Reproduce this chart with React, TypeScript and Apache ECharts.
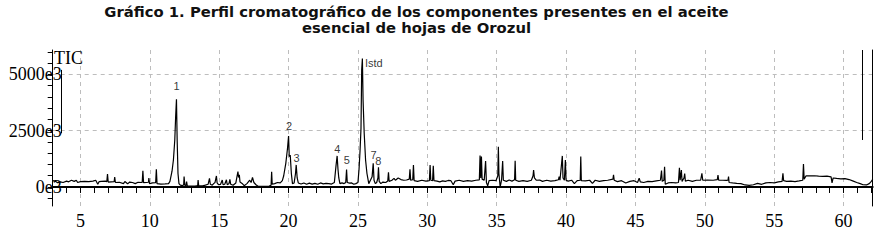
import React, { useEffect, useRef } from "react";
import * as echarts from "echarts";

// Chromatogram trace: [retention time (min), intensity (x1000 counts)]
const traceEarly: [number, number][] = [
  [3.0, 280], [3.2, 250], [3.35, 190], [3.55, 230], [3.75, 200], [4.0, 260], [4.15, 230], [4.35, 300],
  [4.55, 250], [4.7, 300], [4.8, 200], [5.0, 240], [5.3, 250], [5.6, 240], [5.9, 260], [6.1, 300],
  [6.25, 120], [6.35, 240], [6.5, 250], [6.8, 260], [6.9, 240], [6.95, 580], [7.0, 220], [7.2, 230],
  [7.43, 240], [7.47, 440], [7.52, 200], [7.8, 210], [8.1, 150], [8.2, 240], [8.4, 140], [8.55, 220],
  [8.75, 200], [8.95, 150], [9.15, 210], [9.45, 200], [9.5, 720], [9.55, 190], [9.75, 200], [9.9, 210],
  [9.93, 400], [9.98, 150], [10.2, 180], [10.42, 190], [10.47, 790], [10.52, 150], [10.8, 130],
  [11.1, 140], [11.35, 150],
];

const tracePeaks: [number, number][] = [
  [11.45, 250], [11.6, 700], [11.7, 1200], [11.8, 2100], [11.86, 3100], [11.92, 3900], [11.97, 2100],
  [12.03, 600], [12.1, 150], [12.2, 80], [12.35, 60], [12.44, 100], [12.47, 460], [12.52, 80],
  [12.6, 60], [12.65, 240], [12.7, 50], [13.0, 40], [13.3, 50], [13.45, 60], [13.48, 310], [13.52, 60],
  [13.8, 50], [14.0, 80], [14.2, 120], [14.3, 385], [14.36, 120], [14.5, 80], [14.6, 150], [14.7, 200],
  [14.8, 490], [14.85, 180], [14.95, 100], [15.1, 120], [15.22, 310], [15.28, 100], [15.4, 120],
  [15.52, 320], [15.58, 100], [15.7, 140], [15.77, 340], [15.83, 120], [16.0, 80], [16.2, 180],
  [16.35, 680], [16.4, 420], [16.45, 540], [16.5, 220], [16.65, 160], [16.8, 60], [17.0, 150],
  [17.2, 300], [17.3, 200], [17.4, 430], [17.5, 200], [17.65, 100], [17.8, 30], [18.2, 30], [18.6, 40],
  [18.74, 80], [18.78, 680], [18.82, 120], [19.0, 150], [19.2, 200], [19.4, 180], [19.55, 280],
  [19.65, 500], [19.8, 1050], [19.92, 1700], [20.0, 2260], [20.05, 1350], [20.12, 1420], [20.2, 600],
  [20.28, 150], [20.4, 180], [20.5, 600], [20.55, 980], [20.62, 400], [20.7, 180], [20.9, 130],
  [21.1, 180], [21.3, 120], [21.5, 170], [21.7, 130], [21.9, 160], [22.1, 120], [22.3, 180], [22.5, 140],
  [22.7, 160], [22.9, 150], [23.1, 130], [23.3, 200], [23.42, 950], [23.5, 1380], [23.56, 800],
  [23.62, 400], [23.7, 150], [23.85, 180], [24.0, 150], [24.12, 200], [24.18, 780], [24.23, 200],
  [24.4, 170], [24.55, 180], [24.7, 120], [24.85, 150], [25.0, 200], [25.08, 800], [25.15, 1600],
  [25.22, 2600], [25.27, 5200], [25.32, 5700], [25.37, 3850], [25.45, 2400], [25.55, 1200],
  [25.65, 600], [25.78, 150], [25.9, 300], [26.02, 450], [26.1, 1050], [26.16, 300], [26.25, 150],
  [26.35, 200], [26.44, 400], [26.48, 880], [26.53, 250], [26.65, 150], [26.8, 220], [27.0, 200],
  [27.15, 270], [27.2, 650], [27.25, 250], [27.45, 300], [27.6, 385], [27.7, 300], [27.9, 400],
];

const traceMiddle: [number, number][] = [
  [28.1, 330], [28.3, 300], [28.5, 310], [28.7, 350], [28.75, 790], [28.8, 300], [28.95, 320],
  [29.0, 980], [29.05, 280], [29.3, 250], [29.6, 300], [29.9, 260], [30.15, 280], [30.2, 980],
  [30.25, 300], [30.38, 280], [30.43, 940], [30.48, 280], [30.7, 260], [30.9, 230], [31.1, 270],
  [31.3, 250], [31.5, 290], [31.7, 280], [31.87, 100], [32.0, 260], [32.3, 300], [32.6, 250],
  [32.9, 280], [33.2, 260], [33.5, 300], [33.75, 320], [33.8, 1400], [33.85, 400], [33.9, 1350],
  [33.95, 350], [34.1, 300], [34.2, 1150], [34.26, 200], [34.35, 50], [34.45, 280], [34.7, 300],
  [34.95, 280], [35.08, 500], [35.12, 1790], [35.16, 600], [35.25, 0], [35.35, 300], [35.43, 1150],
  [35.48, 300], [35.7, 250], [35.9, 310], [36.1, 260], [36.29, 320], [36.33, 1160], [36.37, 300],
  [36.6, 250], [36.9, 280], [37.2, 250], [37.5, 300], [37.62, 500], [37.66, 750], [37.72, 400],
  [37.85, 300], [38.1, 310], [38.3, 250], [38.6, 300], [38.9, 260], [39.2, 280], [39.45, 320],
  [39.5, 460], [39.56, 300], [39.73, 1380], [39.78, 400], [39.88, 300], [39.95, 1200], [40.0, 300],
  [40.15, 260], [40.4, 300], [40.6, 150], [40.8, 280], [41.02, 300], [41.06, 1350], [41.1, 280],
  [41.4, 270], [41.7, 300], [41.9, 160], [42.1, 300], [42.4, 250], [42.7, 280], [43.0, 300],
  [43.38, 350], [43.42, 540], [43.47, 300], [43.7, 240], [44.0, 280], [44.3, 180], [44.6, 250],
  [44.9, 280], [45.15, 200], [45.27, 390], [45.35, 230], [45.6, 200], [45.9, 250],
];

const traceLate: [number, number][] = [
  [46.2, 240], [46.5, 270], [46.8, 300], [46.88, 730], [46.93, 250], [47.05, 300], [47.1, 900],
  [47.15, 120], [47.35, 180], [47.6, 200], [47.9, 180], [48.1, 200], [48.17, 850], [48.22, 300],
  [48.31, 750], [48.36, 250], [48.5, 400], [48.55, 600], [48.6, 260], [48.8, 300], [49.1, 250],
  [49.4, 300], [49.7, 300], [49.79, 610], [49.85, 300], [50.2, 310], [50.6, 300], [50.9, 330],
  [50.95, 530], [51.0, 300], [51.3, 300], [51.55, 290], [51.67, 300], [51.71, 460], [51.75, 200],
  [52.0, 180], [52.3, 160], [52.6, 150], [52.9, 90], [53.2, 70], [53.5, 100], [53.8, 160], [54.1, 120],
  [54.4, 180], [54.7, 200], [55.0, 180], [55.3, 230], [55.57, 250], [55.63, 610], [55.68, 280],
  [55.9, 250], [56.2, 260], [56.5, 240], [56.8, 270], [57.06, 300], [57.11, 1020], [57.16, 350],
  [57.3, 500], [57.6, 490], [57.9, 500], [58.2, 480], [58.5, 470], [58.8, 480], [59.1, 450],
  [59.17, 180], [59.25, 400], [59.5, 380], [59.8, 360], [60.1, 370], [60.4, 330], [60.7, 260],
  [60.95, 200], [61.2, 150], [61.4, 100], [61.65, 90], [61.85, 150], [62.0, 250], [62.1, 340],
];

// Peak labels
const peakNames = ["1", "2", "3", "4", "5", "Istd", "7", "8"];
const peakLabelTimes = [11.92, 20.04, 20.58, 23.51, 24.19, 26.14, 26.12, 26.46];
const peakLabelValues = [4485, 2708, 1288, 1674, 1199, 5493, 1421, 1168];

// Integration window markers
const markerTimes = [3.63, 61.33];
const markerLows = [2384, 2087];
const markerHighs = [5200, 6083];

// Axes
const xMin = 3.0;
const xMax = 62.1;
const yMin = -844;
const yMax = 6083;
const xTickValues = [3, 4, 5, 6, 7, 8, 9, 10, 11, 12, 13, 14, 15, 16, 17, 18, 19, 20, 21, 22, 23, 24, 25, 26, 27, 28, 29, 30, 31, 32, 33, 34, 35, 36, 37, 38, 39, 40, 41, 42, 43, 44, 45, 46, 47, 48, 49, 50, 51, 52, 53, 54, 55, 56, 57, 58, 59, 60, 61, 62];
const xLabelValues = [5, 10, 15, 20, 25, 30, 35, 40, 45, 50, 55, 60];
const yTickValues = [-500, 0, 500, 1000, 1500, 2000, 2500, 3000, 3500, 4000, 4500, 5000, 5500, 6000];
const yLabelValues = [0, 2500, 5000];

const titleText =
  "Gráfico 1. Perfil cromatográfico de los componentes presentes en el aceite\nesencial de hojas de Orozul";

export default function App() {
  const ref = useRef<HTMLDivElement>(null);
  useEffect(() => {
    if (!ref.current) return;
    const chart = echarts.init(ref.current, null, { renderer: "svg" });
    const trace = [...traceEarly, ...tracePeaks, ...traceMiddle, ...traceLate];
    const gridColor = "#bdbdbd";
    chart.setOption({
      animation: false,
      backgroundColor: "#ffffff",
      grid: { left: 52.7, right: 16.3, top: 50, bottom: 34, containLabel: false },
      graphic: [
        {
          type: "text",
          x: 416.5,
          y: 3,
          style: {
            text: titleText,
            textAlign: "center",
            textVerticalAlign: "top",
            fontFamily: "DejaVu Sans",
            fontWeight: "bold",
            fontSize: 14.8,
            lineHeight: 16,
            fill: "#111",
          },
        },
        {
          type: "text",
          x: 54,
          y: 57.5,
          z: 10,
          style: {
            text: "TIC",
            textVerticalAlign: "middle",
            fontFamily: "Liberation Serif",
            fontSize: 18,
            fill: "#000",
          },
        },
      ],
      xAxis: [
        {
          type: "value",
          position: "bottom",
          min: xMin,
          max: xMax,
          axisLine: { show: false },
          axisTick: { show: true, inside: false, length: 6, customValues: xTickValues, lineStyle: { color: "#000" } },
          axisLabel: {
            customValues: xLabelValues,
            margin: 6,
            fontFamily: "Liberation Serif",
            fontSize: 18,
            color: "#000",
          },
          splitLine: { show: false },
        },
        {
          type: "value",
          position: "top",
          min: xMin,
          max: xMax,
          axisLine: { show: true, lineStyle: { color: "#000", width: 2 } },
          axisTick: { show: false, customValues: xLabelValues },
          axisLabel: { show: false },
          splitLine: { show: true, lineStyle: { color: gridColor, type: [4, 4], width: 1 } },
        },
      ],
      yAxis: [
        {
          type: "value",
          position: "left",
          min: yMin,
          max: yMax,
          axisLine: { show: true, lineStyle: { color: "#000", width: 1 } },
          axisTick: { show: true, inside: false, length: 5, customValues: yTickValues, lineStyle: { color: "#000" } },
          axisLabel: {
            customValues: yLabelValues,
            margin: -9,
            formatter: (v: number) => `${v}e3`,
            fontFamily: "Liberation Serif",
            fontSize: 18,
            color: "#000",
          },
          splitLine: { show: false },
        },
        {
          type: "value",
          position: "right",
          min: yMin,
          max: yMax,
          axisLine: { show: true, lineStyle: { color: "#000", width: 1 } },
          axisTick: { show: false, customValues: yLabelValues },
          axisLabel: { show: false },
          splitLine: { show: true, lineStyle: { color: gridColor, type: [4, 4], width: 1 } },
        },
      ],
      series: [
        {
          type: "line",
          xAxisIndex: 0,
          yAxisIndex: 0,
          data: trace,
          symbol: "none",
          showSymbol: false,
          lineStyle: { color: "#000", width: 1.2 },
          z: 5,
          markLine: {
            silent: true,
            symbol: "none",
            label: { show: false },
            lineStyle: { color: "#000", width: 1, type: "solid" },
            data: markerTimes.map((t, i) => [
              { coord: [t, markerHighs[i]] },
              { coord: [t, markerLows[i]] },
            ]),
          },
        },
        {
          type: "scatter",
          xAxisIndex: 0,
          yAxisIndex: 0,
          symbolSize: 0,
          silent: true,
          z: 6,
          itemStyle: { color: "#000" },
          emphasis: { disabled: true },
          data: peakNames.map((n, i) => ({ name: n, value: [peakLabelTimes[i], peakLabelValues[i]] })),
          label: {
            show: true,
            position: [0, 0],
            align: "center",
            verticalAlign: "middle",
            formatter: (p: any) => p.name,
            fontFamily: "Liberation Sans",
            fontSize: 11,
            color: "#000",
            textBorderWidth: 0,
          },
        },
      ],
    });
    return () => chart.dispose();
  }, []);
  return <div ref={ref} style={{ position: "absolute", left: 0, top: 0, width: 889, height: 240 }} />;
}
